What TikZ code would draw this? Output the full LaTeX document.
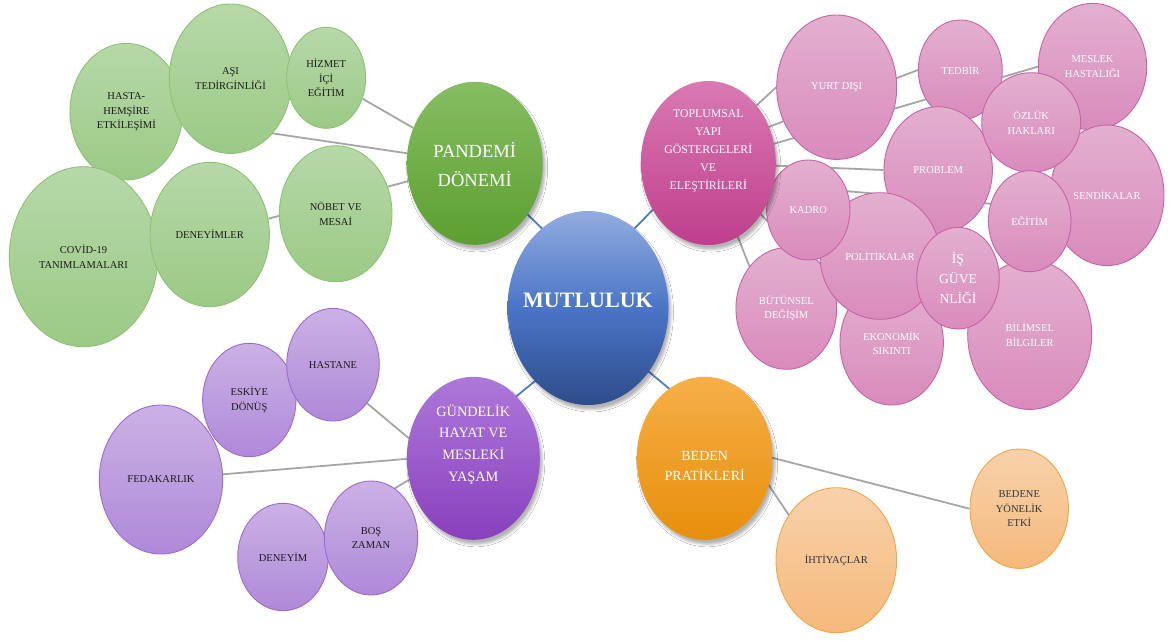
\documentclass[tikz,border=0pt]{standalone}
\usepackage{fontspec}
\setmainfont{Liberation Serif}
\usetikzlibrary{shapes.geometric,calc,shadows.blur}
\pgfdeclarelayer{background}
\pgfsetlayers{background,main}
\definecolor{gTop}{HTML}{B7D8A9}
\definecolor{gBot}{HTML}{9BCA85}
\definecolor{gOut}{HTML}{8CC372}
\definecolor{pTop}{HTML}{E3B0CF}
\definecolor{pBot}{HTML}{D98BBC}
\definecolor{pOut}{HTML}{C962A7}
\definecolor{vTop}{HTML}{CBB1E4}
\definecolor{vBot}{HTML}{AF89D9}
\definecolor{vOut}{HTML}{9D6BD0}
\definecolor{oTop}{HTML}{F8D2AB}
\definecolor{oBot}{HTML}{F5B97B}
\definecolor{oOut}{HTML}{F1A646}
\definecolor{mTop}{HTML}{92ACDF}
\definecolor{mMid}{HTML}{4A75C6}
\definecolor{mBot}{HTML}{2E4C8A}
\definecolor{pdTop}{HTML}{86BE62}
\definecolor{pdBot}{HTML}{5C9F30}
\definecolor{tpTop}{HTML}{D97AB3}
\definecolor{tpBot}{HTML}{BF3E8C}
\definecolor{ghTop}{HTML}{AD78D9}
\definecolor{ghBot}{HTML}{8940BD}
\definecolor{bpTop}{HTML}{F6AF48}
\definecolor{bpBot}{HTML}{E78F0B}
\definecolor{lineGray}{HTML}{A6A6A6}
\definecolor{lineBlue}{HTML}{4A7CC8}
\definecolor{darktxt}{HTML}{1A1A1A}
\definecolor{otxt}{HTML}{2E3440}
\begin{document}
\begin{tikzpicture}[x=1pt,y=-1pt,
  leaf/.style={ellipse, inner sep=0pt, align=center, line width=0.9pt, font=\fontsize{10.5}{14.5}\selectfont},
  gl/.style={leaf, draw=gOut, top color=gTop, bottom color=gBot, text=darktxt},
  pl/.style={leaf, draw=pOut, top color=pTop, bottom color=pBot, text=white},
  vl/.style={leaf, draw=vOut, top color=vTop, bottom color=vBot, text=darktxt},
  ol/.style={leaf, draw=oOut, top color=oTop, bottom color=oBot, text=otxt},
  dims/.style 2 args={minimum width=#1pt, minimum height=#2pt},
  hub/.style={ellipse, inner sep=0pt, blur shadow={shadow xshift=2.5pt, shadow yshift=-4.5pt, shadow blur radius=2.5pt, shadow opacity=30}},
  lbl/.style={text=white, align=center, inner sep=0pt},
  conn/.style={draw=lineGray, line width=1.8pt},
  bconn/.style={draw=lineBlue, line width=1.8pt}
]
\useasboundingbox (0,0) rectangle (1171,641);

% ---- green leaves ----
\node[gl, dims={112.6}{136.6}] (hh) at (126.3,111.7) {HASTA-\\HEMŞİRE\\ETKİLEŞİMİ};
\node[gl, dims={122.4}{149.4}] (asi) at (230.5,78.7) {AŞI\\TEDİRGİNLİĞİ};
\node[gl, dims={79}{101}] (hiz) at (326.2,77.8) {HİZMET\\İÇİ\\EĞİTİM};
\node[gl, dims={148.4}{180}] (cov) at (83.5,256.7) {COVİD-19\\TANIMLAMALARI};
\node[gl, dims={119.4}{144.4}] (den) at (209.7,234.5) {DENEYİMLER};
\node[gl, dims={112.6}{136}] (nob) at (335.7,213.7) {NÖBET VE\\MESAİ};
\node[hub, top color=pdTop, bottom color=pdBot, dims={136}{163},
  label={[lbl, font=\fontsize{18.5}{29}\selectfont, yshift=-1pt]center:PANDEMİ\\DÖNEMİ}] (pd) at (474.7,163.3) {};

% ---- purple leaves ----
\node[vl, dims={93.4}{113.4}] (esk) at (249.3,400) {ESKİYE\\DÖNÜŞ};
\node[vl, dims={92.6}{112.6}] (has) at (333,364.7) {HASTANE};
\node[vl, dims={123.4}{149}] (fed) at (161,479.5) {FEDAKARLIK};
\node[vl, dims={90.6}{107.4}] (dny) at (283,557) {DENEYİM};
\node[vl, dims={93.4}{114}] (bos) at (371,538) {BOŞ\\ZAMAN};
\node[hub, top color=ghTop, bottom color=ghBot, dims={133}{163},
  label={[lbl, font=\fontsize{14.3}{21.7}\selectfont, yshift=14pt]center:GÜNDELİK\\HAYAT  VE\\MESLEKİ\\YAŞAM}] (gh) at (473.3,458.3) {};

% ---- pink leaves ----
\node[pl, dims={120}{144.4}] (yd) at (836.7,87.2) {YURT DIŞI};
\node[pl, dims={84}{100}] (ted) at (960.3,70) {TEDBİR};
\node[pl, dims={108.4}{126.6}] (mes) at (1092.5,66.7) {MESLEK\\HASTALIĞI};
\node[pl, dims={114}{140.6}] (sen) at (1107,195.3) {SENDİKALAR};
\node[pl, dims={108.4}{126.6}] (pro) at (938.2,170) {PROBLEM};
\node[pl, dims={99}{99.6}] (ozl) at (1031.2,122.5) {ÖZLÜK\\HAKLARI};
\node[pl, dims={124}{149.4}] (bil) at (1029.7,334.7) {BİLİMSEL\\BİLGİLER};
\node[pl, dims={82.6}{101}] (egt) at (1029.7,221.2) {EĞİTİM};
\node[pl, dims={103.4}{124}] (eko) at (891.7,343) {EKONOMİK\\SIKINTI};
\node[pl, dims={100.7}{121.6}] (but) at (786.3,308.5) {BÜTÜNSEL\\DEĞİŞİM};
\node[pl, dims={120}{126.6}] (pol) at (880,256) {POLİTİKALAR};
\node[pl, dims={83.4}{100}] (kad) at (808.3,210) {KADRO};
\node[pl, dims={82.6}{101.6}, font=\fontsize{13.6}{20}\selectfont] (isg) at (958,278.2) {İŞ\\GÜVE\\NLİĞİ};
\node[hub, top color=tpTop, bottom color=tpBot, dims={135}{164},
  label={[lbl, font=\fontsize{11.8}{18}\selectfont, yshift=12pt]center:TOPLUMSAL\\YAPI\\GÖSTERGELERİ\\VE\\ELEŞTİRİLERİ}] (tp) at (708.3,163) {};

% ---- orange leaves ----
\node[ol, dims={120.6}{145}] (iht) at (836.3,560.2) {İHTİYAÇLAR};
\node[ol, dims={98.4}{119.4}] (byn) at (1019.2,508.7) {BEDENE\\YÖNELİK\\ETKİ};
\node[hub, top color=bpTop, bottom color=bpBot, dims={136}{163},
  label={[lbl, font=\fontsize{14}{20}\selectfont, yshift=-8pt]center:BEDEN\\PRATİKLERİ}] (bp) at (704.7,458.3) {};

% ---- centre ----
\node[hub, top color=mTop, bottom color=mBot, middle color=mMid, dims={161}{194},
  label={[lbl, font=\bfseries\fontsize{22}{26}\selectfont, yshift=8pt]center:MUTLULUK}] (mut) at (588,308) {};

\begin{pgfonlayer}{background}
\fill[white] (0,0) rectangle (1171,641);
\draw[conn] (pd) -- (hiz);
\draw[conn] (pd) -- (hh);
\draw[conn] (pd) -- (den);
\draw[conn] ($(tp)+(0,-13)$) -- (yd.west);
\draw[conn] ($(tp)+(0,-13)$) -- (ted.west);
\draw[conn] (tp.center) -- (mes.west);
\draw[conn] (tp.center) -- (pro.west);
\draw[conn] ($(tp)+(0,16)$) -- ($(egt)+(0,-14)$);
\draw[conn] (tp.center) -- (eko.center);
\draw[conn] (tp.center) -- ($(but)+(-20,0)$);
\draw[conn] ($(gh)+(0,34)$) -- ($(has)+(0,10)$);
\draw[conn] ($(gh)+(0,-5)$) -- (fed.center);
\draw[conn] ($(gh)+(0,-18)$) -- ($(bos)+(0,-35)$);
\draw[conn] ($(bp)+(0,-18)$) -- (byn.west);
\draw[conn] ($(bp)+(20,-39)$) -- ($(iht)+(-36,-28)$);
\draw[bconn] ($(mut)+(0,-35)$) -- (pd.center);
\draw[bconn] ($(mut)+(0,-32)$) -- ($(tp)+(0,-10)$);
\draw[bconn] ($(mut)+(0,30)$) -- ($(gh)+(0,-27)$);
\draw[bconn] ($(mut)+(0,13)$) -- ($(bp)+(0,-40)$);
\end{pgfonlayer}
\end{tikzpicture}
\end{document}
